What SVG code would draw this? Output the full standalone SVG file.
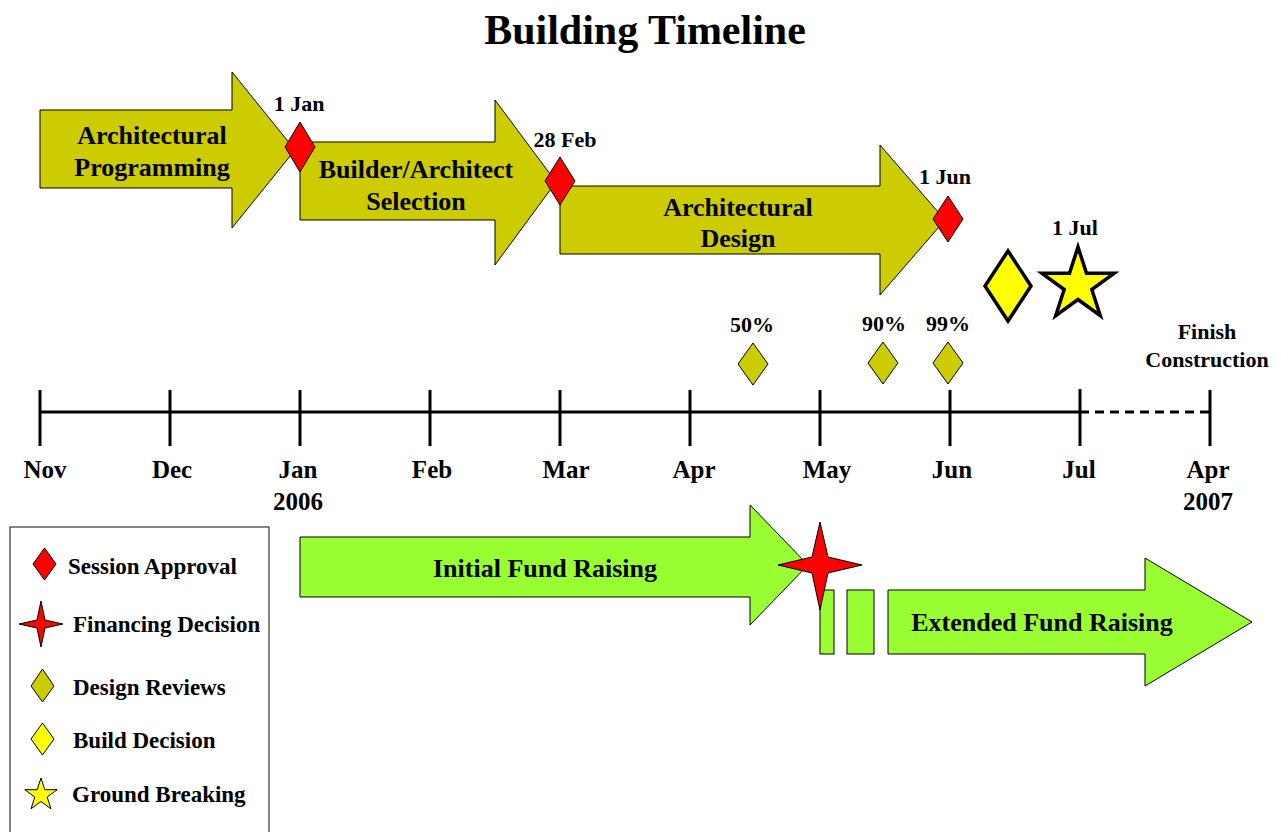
<svg xmlns="http://www.w3.org/2000/svg" width="1281" height="832" viewBox="0 0 1281 832">
<style>
text{font-family:"Liberation Serif","Times New Roman",serif;font-weight:bold;fill:#000;text-anchor:middle}
.t{font-size:42px}
.big{font-size:26px}
.sm{font-size:22px}
.mo{font-size:25px}
.lg{font-size:23px;text-anchor:start}
.olive{fill:#CCCC00;stroke:#000;stroke-width:1}
.red{fill:#FF0000;stroke:#000;stroke-width:1}
.yel{fill:#FFFF00;stroke:#000;stroke-width:1}
.yelb{fill:#FFFF00;stroke:#000;stroke-width:3.5;stroke-linejoin:miter}
.grn{fill:#99FF33;stroke:#000;stroke-width:1}
.axis{stroke:#000;stroke-width:3;fill:none}
</style>
<rect width="1281" height="832" fill="#fff"/>
<text class="t" x="645" y="44">Building Timeline</text>

<g id="arch-programming">
<polygon class="olive" points="40,110 232,110 232,72 295,150 232,228 232,188 40,188"/>
<text class="big" x="152" y="144">Architectural</text>
<text class="big" x="152" y="176">Programming</text>
</g>
<g id="builder-selection">
<polygon class="olive" points="300,142 495,142 495,100 556,182 495,265 495,220 300,220"/>
<text class="big" x="416" y="178">Builder/Architect</text>
<text class="big" x="416" y="210">Selection</text>
</g>
<g id="arch-design">
<polygon class="olive" points="560,186 880,186 880,145 945,220 880,295 880,254 560,254"/>
<text class="big" x="738" y="216">Architectural</text>
<text class="big" x="738" y="247">Design</text>
</g>

<g id="session-jan">
<polygon class="red" points="300,122 315,147 300,172 285,147"/>
<text class="sm" x="299" y="111">1 Jan</text>
</g>
<g id="session-feb">
<polygon class="red" points="560,157 575,181 560,205 545,181"/>
<text class="sm" x="565" y="147">28 Feb</text>
</g>
<g id="session-jun">
<polygon class="red" points="948,196 963,219 948,242 933,219"/>
<text class="sm" x="945" y="184">1 Jun</text>
</g>

<g id="build-decision">
<polygon class="yelb" points="1008,251 1031,286 1008,321 985,286"/>
</g>
<g id="ground-breaking">
<polygon class="yelb" points="1078,247 1086.5,273.3 1114.1,273.3 1091.8,289.5 1100.3,315.7 1078,299.5 1055.7,315.7 1064.2,289.5 1041.9,273.3 1069.5,273.3"/>
<text class="sm" x="1075" y="235">1 Jul</text>
</g>

<g id="review-50">
<polygon class="olive" points="753,343 768,364 753,385 738,364"/>
<text class="sm" x="752" y="332">50%</text>
</g>
<g id="review-90">
<polygon class="olive" points="883,342 898,363 883,384 868,363"/>
<text class="sm" x="884" y="331">90%</text>
</g>
<g id="review-99">
<polygon class="olive" points="948,342 963,363 948,384 933,363"/>
<text class="sm" x="948" y="331">99%</text>
</g>

<g id="finish">
<text class="sm" x="1207" y="339">Finish</text>
<text class="sm" x="1207" y="367">Construction</text>
</g>

<g id="timeline">
<line class="axis" x1="40" y1="412" x2="1080" y2="412"/>
<line class="axis" x1="1080" y1="412" x2="1210" y2="412" stroke-dasharray="9,6"/>
<g class="axis">
<line x1="40" y1="390" x2="40" y2="446"/>
<line x1="170" y1="390" x2="170" y2="446"/>
<line x1="300" y1="390" x2="300" y2="446"/>
<line x1="430" y1="390" x2="430" y2="446"/>
<line x1="560" y1="390" x2="560" y2="446"/>
<line x1="690" y1="390" x2="690" y2="446"/>
<line x1="820" y1="390" x2="820" y2="446"/>
<line x1="950" y1="390" x2="950" y2="446"/>
<line x1="1080" y1="389" x2="1080" y2="446"/>
<line x1="1210" y1="390" x2="1210" y2="446"/>
</g>
<text class="mo" x="45" y="478">Nov</text>
<text class="mo" x="172" y="478">Dec</text>
<text class="mo" x="298" y="478">Jan</text>
<text class="mo" x="298" y="510">2006</text>
<text class="mo" x="432" y="478">Feb</text>
<text class="mo" x="566" y="478">Mar</text>
<text class="mo" x="694" y="478">Apr</text>
<text class="mo" x="827" y="478">May</text>
<text class="mo" x="952" y="478">Jun</text>
<text class="mo" x="1079" y="478">Jul</text>
<text class="mo" x="1208" y="478">Apr</text>
<text class="mo" x="1208" y="510">2007</text>
</g>

<g id="initial-fund">
<polygon class="grn" points="300,537 750,537 750,505 808,565 750,625 750,597 300,597"/>
<text class="big" x="545" y="577">Initial Fund Raising</text>
</g>
<g id="extended-fund">
<rect class="grn" x="820" y="590" width="14" height="64"/>
<rect class="grn" x="847" y="590" width="27" height="64"/>
<polygon class="grn" points="888,590 1145,590 1145,558 1252,622 1145,686 1145,654 888,654"/>
<text class="big" x="1042" y="631">Extended Fund Raising</text>
</g>
<g id="financing-decision">
<polygon class="red" points="820,522 828,557 862,565 828,573 820,610 812,573 778,565 812,557"/>
</g>

<g id="legend">
<rect x="10" y="527" width="259" height="320" fill="#fff" stroke="#333" stroke-width="1.2"/>
<polygon class="red" points="44.5,548 56,564 44.5,580 33,564"/>
<text class="lg" x="68" y="574">Session Approval</text>
<polygon class="red" points="41,601 45,620 63,624 45,628 41,647 37,628 19,624 37,620"/>
<text class="lg" x="73" y="632">Financing Decision</text>
<polygon class="olive" points="42.5,669 54,686 42.5,702 31,686"/>
<text class="lg" x="73" y="695">Design Reviews</text>
<polygon class="yel" points="42.5,723 54,739 42.5,755 31,739"/>
<text class="lg" x="73" y="748">Build Decision</text>
<polygon class="yel" points="41,778 44.8,789.7 57.2,789.7 47.2,797 51,808.8 41,801.5 31,808.8 34.8,797 24.8,789.7 37.2,789.7"/>
<text class="lg" x="72" y="802">Ground Breaking</text>
</g>
</svg>
